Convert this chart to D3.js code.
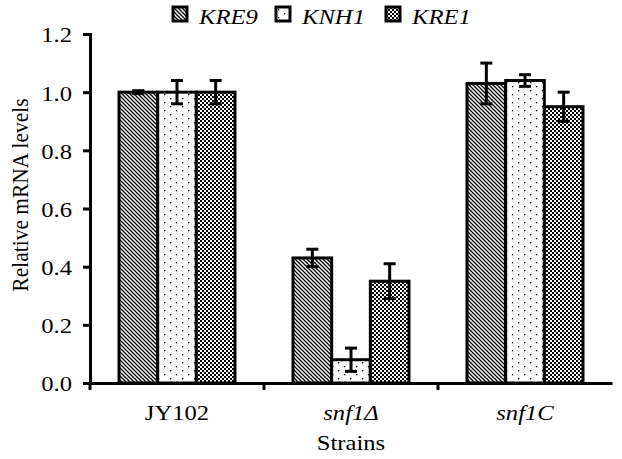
<!DOCTYPE html>
<html>
<head>
<meta charset="utf-8">
<script src="https://cdn.jsdelivr.net/npm/d3@7"></script>
<style>
  body { margin: 0; background: #fff; }
</style>
</head>
<body>
<div id="viz"></div>
<script>
let strains = ['JY102', 'snf1Δ', 'snf1C'],
    genes = ['KRE9', 'KNH1', 'KRE1'],
    kre9 = [1.00, 0.43, 1.03],
    knh1 = [1.00, 0.08, 1.04],
    kre1 = [1.00, 0.35, 0.95],
    kre9Err = [0.005, 0.03, 0.07],
    knh1Err = [0.04, 0.04, 0.02],
    kre1Err = [0.04, 0.06, 0.05],
    yTicks = [0, 0.2, 0.4, 0.6, 0.8, 1.0, 1.2];

let width = 622, height = 459,
    margin = { top: 34, right: 10, bottom: 76, left: 90 },
    serif = 'Liberation Serif',
    fs = '22px',
    sx = 1.12; // the source glyphs look a bit wide

let svg = d3.select('#viz').append('svg')
  .attr('width', width)
  .attr('height', height)
  .attr('font-family', serif);

// fill patterns
let defs = svg.append('defs');
let p1 = defs.append('pattern').attr('id', 'pDiag')
  .attr('patternUnits', 'userSpaceOnUse').attr('width', 4).attr('height', 4);
p1.append('rect').attr('width', 4).attr('height', 4).attr('fill', '#fff');
p1.append('path').attr('d', 'M-1,-1L5,5M-1,3L1,5M3,-1L5,1')
  .attr('stroke', '#000').attr('stroke-width', 1.3);

let p2 = defs.append('pattern').attr('id', 'pDots')
  .attr('patternUnits', 'userSpaceOnUse').attr('width', 12).attr('height', 8);
p2.append('rect').attr('width', 12).attr('height', 8).attr('fill', '#fff');
p2.append('rect').attr('x', 2).attr('y', 2).attr('width', 1.3).attr('height', 1.3).attr('fill', '#000');
p2.append('rect').attr('x', 8).attr('y', 6).attr('width', 1.3).attr('height', 1.3).attr('fill', '#000');

let p3 = defs.append('pattern').attr('id', 'pCheck')
  .attr('patternUnits', 'userSpaceOnUse').attr('width', 4).attr('height', 4);
p3.append('rect').attr('width', 4).attr('height', 4).attr('fill', '#fff');
p3.append('rect').attr('width', 2).attr('height', 2).attr('fill', '#000');
p3.append('rect').attr('x', 2).attr('y', 2).attr('width', 2).attr('height', 2).attr('fill', '#000');

let fills = ['url(#pDiag)', 'url(#pDots)', 'url(#pCheck)'];

let xScale = d3.scaleBand()
  .domain(strains)
  .range([margin.left, 612])
  .paddingInner(0)
  .paddingOuter(0);

let xInner = d3.scaleBand()
  .domain(genes)
  .range([29, xScale.bandwidth() - 29]);

let yScale = d3.scaleLinear()
  .domain([0, 1.2])
  .range([383, margin.top]);

let series = [kre9, knh1, kre1],
    errs = [kre9Err, knh1Err, kre1Err];

// bars
genes.forEach(function(g, gi) {
  let rows = strains.map(function(s, si) {
    return { strain: s, value: series[gi][si], err: errs[gi][si] };
  });
  let grp = svg.append('g');
  grp.selectAll('rect').data(rows)
    .enter().append('rect')
    .attr('x', function(d) { return xScale(d.strain) + xInner(g); })
    .attr('y', function(d) { return yScale(d.value); })
    .attr('width', xInner.bandwidth())
    .attr('height', function(d) { return yScale(0) - yScale(d.value); })
    .attr('fill', fills[gi])
    .attr('stroke', '#000')
    .attr('stroke-width', 3);

  // error bars
  rows.forEach(function(d) {
    let cx = xScale(d.strain) + xInner(g) + xInner.bandwidth() / 2;
    let eb = svg.append('g').attr('stroke', '#000').attr('stroke-width', 3);
    eb.append('line').attr('x1', cx).attr('x2', cx)
      .attr('y1', yScale(d.value + d.err)).attr('y2', yScale(d.value - d.err));
    eb.append('line').attr('x1', cx - 6).attr('x2', cx + 6)
      .attr('y1', yScale(d.value + d.err)).attr('y2', yScale(d.value + d.err));
    eb.append('line').attr('x1', cx - 6).attr('x2', cx + 6)
      .attr('y1', yScale(d.value - d.err)).attr('y2', yScale(d.value - d.err));
  });
});

// axes
let yAxis = d3.axisLeft(yScale)
  .tickValues(yTicks)
  .tickFormat(d3.format('.1f'))
  .tickSize(7)
  .tickPadding(9);

let yGuide = svg.append('g')
  .attr('transform', 'translate(' + margin.left + ',0)')
  .call(yAxis);

let xAxis = d3.axisBottom(xScale)
  .tickValues([])
  .tickSizeOuter(0);

let xGuide = svg.append('g')
  .attr('transform', 'translate(0,383)')
  .call(xAxis);

[yGuide, xGuide].forEach(function(gd) {
  gd.attr('font-family', serif).attr('font-size', fs);
  gd.select('.domain').attr('stroke', '#000').attr('stroke-width', 3);
  gd.selectAll('.tick line').attr('stroke', '#000').attr('stroke-width', 3);
  gd.selectAll('.tick text')
    .attr('fill', '#000')
    .attr('dy', '0.36em')
    .attr('transform', 'scale(' + sx + ',1)');
});

// x category boundary ticks
let bounds = strains.map(function(s) { return xScale(s); });
svg.append('g').selectAll('line').data(bounds)
  .enter().append('line')
  .attr('x1', function(d) { return d; })
  .attr('x2', function(d) { return d; })
  .attr('y1', 383).attr('y2', 390)
  .attr('stroke', '#000').attr('stroke-width', 3);

svg.append('g').selectAll('text').data(strains)
  .enter().append('text')
  .attr('transform', function(d) {
    return 'translate(' + (xScale(d) + xScale.bandwidth() / 2) + ',420) scale(' + sx + ',1)';
  })
  .attr('text-anchor', 'middle')
  .attr('font-size', fs)
  .attr('font-style', function(d, i) { return i === 0 ? 'normal' : 'italic'; })
  .text(function(d) { return d; });

// axis titles
svg.append('text')
  .attr('transform', 'translate(' + ((margin.left + 612) / 2) + ',450) scale(' + sx + ',1)')
  .attr('text-anchor', 'middle')
  .attr('font-size', fs)
  .text('Strains');

svg.append('text')
  .attr('transform', 'translate(28,195) scale(' + sx + ',1) rotate(-90)')
  .attr('text-anchor', 'middle')
  .attr('font-size', '21.5px')
  .text('Relative mRNA levels');

// legend
let legendX = [173, 276, 386];
let legend = svg.append('g').selectAll('g').data(genes)
  .enter().append('g')
  .attr('transform', function(d, i) { return 'translate(' + legendX[i] + ',7)'; });

legend.append('rect')
  .attr('width', 14).attr('height', 14)
  .attr('fill', function(d, i) { return fills[i]; })
  .attr('stroke', '#000').attr('stroke-width', 3);

legend.append('text')
  .attr('transform', 'translate(26,17) scale(' + sx + ',1)')
  .attr('font-size', fs)
  .attr('font-style', 'italic')
  .text(function(d) { return d; });
</script>
</body>
</html>
